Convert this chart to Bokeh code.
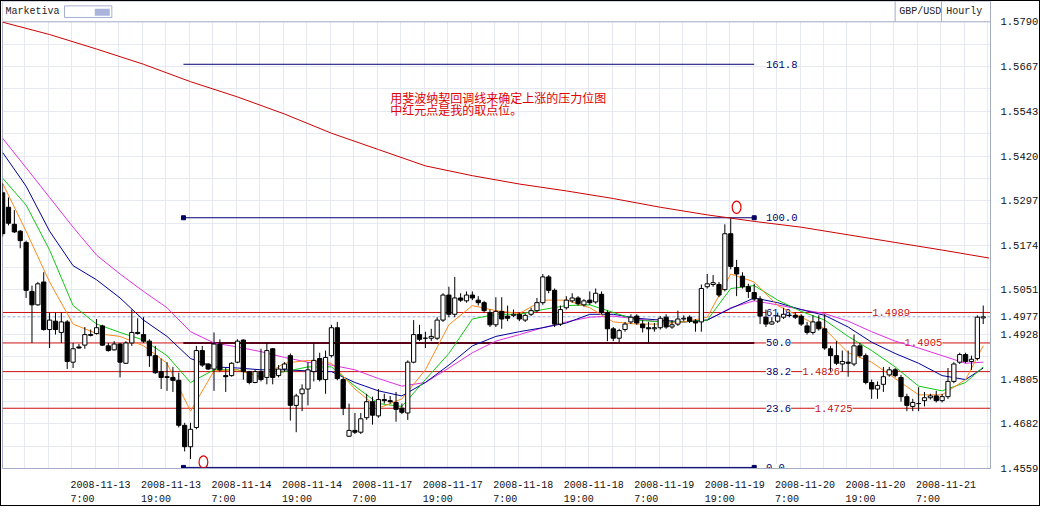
from bokeh.plotting import figure
from bokeh.models import Range1d, FixedTicker, Label, Span, ColumnDataSource, PrintfTickFormatter
from bokeh.core.properties import value
from bokeh.embed import file_html
from bokeh.resources import INLINE

# ---------------- data ----------------
# candle index 0 = 2008-11-12 19:00 (hourly, weekend skipped)
opens = [1.5319,1.5279,1.5232,1.5213,1.5182,1.5047,1.5010,1.5073,1.4942,1.4965,
         1.4934,1.4963,1.4852,1.4894,1.4899,1.4928,1.4931,1.4952,1.4897,1.4886,
         1.4902,1.4849,1.4905,1.4934,1.4928,1.4910,1.4870,1.4826,1.4812,1.4810,
         1.4802,1.4678,1.4619,1.4672,1.4884,1.4847,1.4833,1.4902,1.4815,1.4815,
         1.4852,1.4913,1.4826,1.4796,1.4826,1.4810,1.4889,1.4815,1.4833,1.4870,
         1.4733,1.4765,1.4778,1.4826,1.4862,1.4804,1.4870,1.4947,1.4804,1.4648,
         1.4664,1.4659,1.4699,1.4743,1.4704,1.4749,1.4746,1.4741,1.4725,1.4712,
         1.4852,1.4928,1.4918,1.4918,1.4918,1.4968,1.5037,1.4984,1.5029,1.5021,
         1.5037,1.5023,1.5016,1.4989,1.4955,1.4992,1.4979,1.4981,1.4984,1.4968,
         1.4984,1.4994,1.5016,1.5087,1.5050,1.4957,1.5002,1.5021,1.5029,1.5010,
         1.5023,1.5018,1.5039,1.4989,1.4944,1.4918,1.4942,1.4963,1.4979,1.4957,
         1.4947,1.4944,1.4947,1.4976,1.4949,1.4957,1.4971,1.4976,1.4965,1.4963,
         1.5060,1.5066,1.5066,1.5052,1.5206,1.5113,1.5089,1.5060,1.5044,1.5026,
         1.4976,1.4957,1.4965,1.4976,1.4981,1.4981,1.4979,1.4952,1.4934,1.4963,
         1.4944,1.4889,1.4870,1.4847,1.4852,1.4847,1.4897,1.4870,1.4796,1.4778,
         1.4791,1.4817,1.4831,1.4810,1.4757,1.4730,1.4738,1.4746,1.4754,1.4759,
         1.4746,1.4757,1.4799,1.4852,1.4873,1.4854,1.4862,1.4974]
highs = [1.5345,1.5306,1.5271,1.5216,1.5187,1.5063,1.5073,1.5100,1.4989,1.4989,
         1.4989,1.4968,1.4905,1.4902,1.4949,1.4942,1.4971,1.4955,1.4905,1.4910,
         1.4905,1.4910,1.4997,1.4973,1.4976,1.4915,1.4897,1.4862,1.4852,1.4839,
         1.4823,1.4685,1.4685,1.4897,1.4897,1.4849,1.4934,1.4915,1.4836,1.4852,
         1.4915,1.4915,1.4828,1.4831,1.4889,1.4905,1.4891,1.4844,1.4852,1.4876,
         1.4765,1.4791,1.4852,1.4905,1.4878,1.4884,1.4955,1.4963,1.4810,1.4738,
         1.4712,1.4712,1.4765,1.4757,1.4778,1.4765,1.4759,1.4770,1.4738,1.4857,
         1.4968,1.4955,1.4936,1.4944,1.4976,1.5042,1.5060,1.5087,1.5042,1.5047,
         1.5047,1.5034,1.5021,1.4997,1.5031,1.5031,1.5008,1.4997,1.4989,1.4986,
         1.5002,1.5029,1.5095,1.5092,1.5055,1.5008,1.5034,1.5042,1.5034,1.5026,
         1.5047,1.5055,1.5047,1.4994,1.4949,1.4944,1.4963,1.4984,1.4984,1.4968,
         1.4963,1.4960,1.4979,1.4984,1.4968,1.4994,1.4981,1.4981,1.4971,1.5066,
         1.5095,1.5092,1.5073,1.5232,1.5248,1.5134,1.5100,1.5068,1.5068,1.5034,
         1.4997,1.4976,1.4989,1.5002,1.4989,1.4989,1.4984,1.4963,1.4981,1.4981,
         1.4984,1.4897,1.4910,1.4884,1.4884,1.4928,1.4905,1.4876,1.4804,1.4799,
         1.4839,1.4839,1.4836,1.4817,1.4765,1.4751,1.4783,1.4770,1.4765,1.4773,
         1.4765,1.4836,1.4852,1.4878,1.4878,1.4870,1.4981,1.5008]
lows = [1.5198,1.5229,1.5208,1.5166,1.5029,1.4905,1.5008,1.4939,1.4891,1.4928,
        1.4905,1.4833,1.4836,1.4889,1.4889,1.4923,1.4928,1.4897,1.4881,1.4884,
        1.4810,1.4847,1.4897,1.4928,1.4905,1.4839,1.4820,1.4778,1.4773,1.4770,
        1.4672,1.4606,1.4585,1.4667,1.4839,1.4831,1.4773,1.4826,1.4770,1.4812,
        1.4849,1.4804,1.4791,1.4794,1.4799,1.4791,1.4791,1.4810,1.4826,1.4691,
        1.4659,1.4717,1.4733,1.4799,1.4799,1.4765,1.4865,1.4802,1.4706,1.4646,
        1.4654,1.4654,1.4693,1.4680,1.4699,1.4738,1.4738,1.4688,1.4709,1.4693,
        1.4849,1.4910,1.4891,1.4910,1.4913,1.4963,1.4976,1.4976,1.5018,1.5016,
        1.5023,1.5008,1.4989,1.4949,1.4949,1.4944,1.4965,1.4976,1.4965,1.4963,
        1.4979,1.4989,1.5010,1.5042,1.4949,1.4952,1.4997,1.5016,1.5008,1.5005,
        1.5010,1.5013,1.4984,1.4910,1.4910,1.4907,1.4936,1.4957,1.4955,1.4934,
        1.4905,1.4936,1.4942,1.4944,1.4944,1.4952,1.4965,1.4960,1.4936,1.4936,
        1.5055,1.5060,1.5031,1.5047,1.5108,1.5034,1.5055,1.5029,1.5021,1.4957,
        1.4949,1.4955,1.4960,1.4971,1.4976,1.4971,1.4952,1.4928,1.4928,1.4939,
        1.4886,1.4826,1.4844,1.4826,1.4812,1.4841,1.4865,1.4791,1.4751,1.4751,
        1.4770,1.4812,1.4810,1.4743,1.4717,1.4717,1.4717,1.4730,1.4749,1.4741,
        1.4741,1.4751,1.4794,1.4847,1.4849,1.4831,1.4857,1.4957]
closes = [1.5206,1.5235,1.5211,1.5187,1.5050,1.5010,1.5068,1.4942,1.4968,1.4942,
          1.4963,1.4854,1.4889,1.4891,1.4928,1.4926,1.4947,1.4899,1.4884,1.4902,
          1.4852,1.4905,1.4934,1.4931,1.4910,1.4870,1.4823,1.4810,1.4810,1.4802,
          1.4678,1.4619,1.4667,1.4884,1.4844,1.4833,1.4902,1.4831,1.4812,1.4849,
          1.4910,1.4826,1.4796,1.4826,1.4804,1.4884,1.4810,1.4833,1.4847,1.4733,
          1.4759,1.4778,1.4831,1.4857,1.4804,1.4865,1.4947,1.4807,1.4725,1.4664,
          1.4659,1.4696,1.4743,1.4706,1.4749,1.4746,1.4743,1.4722,1.4714,1.4852,
          1.4928,1.4915,1.4918,1.4923,1.4968,1.5037,1.4984,1.5029,1.5023,1.5037,
          1.5029,1.5016,1.4994,1.4955,1.4992,1.4971,1.4973,1.4984,1.4971,1.4981,
          1.4994,1.5016,1.5087,1.5050,1.4957,1.4997,1.5023,1.5029,1.5013,1.5021,
          1.5016,1.5042,1.4989,1.4944,1.4918,1.4939,1.4957,1.4976,1.4960,1.4947,
          1.4944,1.4947,1.4973,1.4949,1.4955,1.4971,1.4973,1.4965,1.4960,1.5055,
          1.5068,1.5071,1.5037,1.5206,1.5116,1.5095,1.5060,1.5047,1.5026,1.4979,
          1.4957,1.4963,1.4979,1.4984,1.4981,1.4976,1.4957,1.4934,1.4963,1.4944,
          1.4891,1.4870,1.4849,1.4854,1.4849,1.4897,1.4870,1.4796,1.4778,1.4788,
          1.4812,1.4831,1.4815,1.4757,1.4733,1.4741,1.4738,1.4754,1.4759,1.4746,
          1.4757,1.4799,1.4847,1.4873,1.4854,1.4860,1.4976,1.4977]

# moving averages
ma_long_idx = [0, 8, 16, 24, 32, 40, 48, 56, 64, 72, 80, 88, 96, 104, 112, 120, 128, 136, 144, 152, 160, 168]
ma_long = [1.5789,1.5755,1.5715,1.5673,1.5625,1.5583,1.5536,1.5483,1.5438,1.5393,1.5366,
           1.5343,1.5324,1.5303,1.5279,1.5258,1.5240,1.5224,1.5203,1.5182,1.5161,1.5139]
ma_idx = [0,4,8,12,16,20,24,28,32,36,40,44,48,52,56,60,64,68,72,76,80,84,88,92,96,100,
          104,108,112,116,120,124,128,132,136,140,144,148,152,156,160,164,167]
ma_magenta = [1.5469,1.5388,1.5306,1.5224,1.5147,1.5095,1.5047,1.5002,1.4936,1.4905,1.4894,
              1.4881,1.4865,1.4852,1.4844,1.4831,1.4807,1.4786,1.4796,1.4836,1.4878,1.4910,
              1.4928,1.4947,1.4963,1.4976,1.4979,1.4971,1.4963,1.4963,1.4968,1.5002,1.5021,
              1.5010,1.4997,1.4986,1.4965,1.4936,1.4910,1.4891,1.4870,1.4849,1.4852]
ma_blue = [1.5430,1.5337,1.5213,1.5118,1.5079,1.5029,1.4968,1.4923,1.4862,1.4839,1.4836,
           1.4831,1.4831,1.4828,1.4826,1.4796,1.4773,1.4759,1.4796,1.4844,1.4897,1.4923,
           1.4936,1.4947,1.4960,1.4984,1.4984,1.4973,1.4968,1.4963,1.4968,1.5000,1.5029,
           1.5016,1.4997,1.4981,1.4949,1.4907,1.4876,1.4849,1.4815,1.4804,1.4836]
ma_green = [1.5359,1.5285,1.5161,1.5008,1.4957,1.4934,1.4913,1.4870,1.4796,1.4831,1.4831,
            1.4812,1.4826,1.4839,1.4839,1.4786,1.4738,1.4730,1.4804,1.4876,1.4971,1.4984,
            1.4984,1.4997,1.5008,1.5010,1.4989,1.4968,1.4963,1.4963,1.4968,1.5055,1.5063,
            1.5023,1.4992,1.4968,1.4923,1.4884,1.4839,1.4786,1.4773,1.4796,1.4839]
ma_orange = [1.5345,1.5213,1.5073,1.4957,1.4931,1.4923,1.4897,1.4849,1.4717,1.4828,1.4831,
             1.4810,1.4849,1.4857,1.4849,1.4778,1.4725,1.4751,1.4831,1.4955,1.5008,1.4994,
             1.4986,1.5023,1.5023,1.5002,1.4963,1.4957,1.4957,1.4963,1.4976,1.5095,1.5073,
             1.5008,1.4976,1.4944,1.4878,1.4852,1.4807,1.4762,1.4762,1.4804,1.4897]

# fibonacci retracement (navy) and user level lines (red)
fib_start, fib_end = 30.8, 128.0
fib_pct = ["0.0", "23.6", "38.2", "50.0", "61.8", "100.0", "161.8"]
fib_price = [1.4562, 1.4725, 1.4826, 1.4905, 1.4989, 1.5250, 1.5673]
red_levels = [1.4989, 1.4905, 1.4826, 1.4725]
red_labels = ["1.4989", "1.4905", "1.4826", "1.4725"]
red_label_x = [148.1, 153.6, 136.2, 138.3]
last_price = 1.4977
pick_x = [125.0, 34.2]
pick_y = [1.5279, 1.4577]

ytick_labels = ["1.4559", "1.4682", "1.4805", "1.4928", "1.5051", "1.5174",
                "1.5297", "1.5420", "1.5543", "1.5667", "1.5790"]
xtick_idx = [12, 24, 36, 48, 60, 72, 84, 96, 108, 120, 132, 144, 156]
xtick_dates = ["2008-11-13", "2008-11-13", "2008-11-14", "2008-11-14", "2008-11-17", "2008-11-17",
               "2008-11-18", "2008-11-18", "2008-11-19", "2008-11-19", "2008-11-20", "2008-11-20",
               "2008-11-21"]
xtick_times = ["7:00", "19:00", "7:00", "19:00", "7:00", "19:00", "7:00", "19:00",
               "7:00", "19:00", "7:00", "19:00", "7:00"]
note_lines = ["用斐波纳契回调线来确定上涨的压力位图", "中红元点是我的取点位。"]
header_texts = ["Marketiva", "GBP/USD", "Hourly"]

# ---------------- figure ----------------
XMIN, XMAX = -0.02, 168.24
YMIN, YMAX = 1.4559, 1.5790
YTOP = 1.5846          # top of canvas (header strip lives above YMAX)
MONO = "Liberation Mono"
FRAME = "#a4acc8"
GRID = "#e6e8f2"
RED = "#cc1010"
NAVY = "#000070"

p = figure(width=1040, height=506, x_range=Range1d(XMIN, XMAX), y_range=Range1d(YMIN, YTOP),
           output_backend="svg", toolbar_location=None, y_axis_location="right", title=None,
           min_border_left=1, min_border_right=51, min_border_top=0, min_border_bottom=33,
           background_fill_color="white", border_fill_color="white")
p.styles = {"border": "1px solid #000000"}
p.outline_line_color = FRAME

grid_x = [4 * k - 0.2 for k in range(43)]
ytick_vals = [float(s) for s in ytick_labels]
grid_y = []
for a, b in zip(ytick_vals[:-1], ytick_vals[1:]):
    grid_y += [a, (a + b) / 2]
grid_y.append(ytick_vals[-1])

p.xgrid.ticker = FixedTicker(ticks=grid_x)
p.xgrid.grid_line_color = GRID
p.ygrid.ticker = FixedTicker(ticks=grid_y)
p.ygrid.grid_line_color = GRID

# x axis: two-line labels, left-aligned look (monospace, padded lines), label starts at the tick candle
xa = p.xaxis[0]
shift = 4.67
xt = [i + shift for i in xtick_idx]
xlabels = []
for d, t in zip(xtick_dates, xtick_times):
    w = max(len(d), len(t))
    xlabels.append(d + "\u00a0" * (w - len(d)) + "\n" + t + "\u00a0" * (w - len(t)))
xa.ticker = FixedTicker(ticks=xt)
xa.major_label_overrides = {v: s for v, s in zip(xt, xlabels)}
xa.major_label_text_font = MONO
xa.major_label_text_font_size = "10px"
xa.major_label_text_line_height = 1.3
xa.major_label_text_color = "#111111"
xa.major_label_standoff = 5
xa.major_tick_line_color = None
xa.minor_tick_line_color = None
xa.axis_line_color = FRAME

ax = p.yaxis[0]
ax.ticker = FixedTicker(ticks=ytick_vals + [last_price])
ax.formatter = PrintfTickFormatter(format="%.4f")
ax.major_label_text_font = MONO
ax.major_label_text_font_size = "10.5px"
ax.major_label_text_color = "#111111"
ax.major_tick_line_color = None
ax.minor_tick_line_color = None
ax.axis_line_color = FRAME
ax.major_label_standoff = 4

# red level lines and current-price line, under everything except the grid
for v in red_levels:
    p.add_layout(Span(location=v, dimension="width", line_color=RED, line_width=1, level="underlay"))
p.add_layout(Span(location=last_price, dimension="width", line_color="#9aaee6", line_width=1,
                  line_dash="3 2", level="underlay"))

# level labels (under the candles, white box interrupts the lines)
for t, v in zip(fib_pct, fib_price):
    p.add_layout(Label(x=130.0, y=v, text=t, text_font=MONO, text_font_size="10.5px",
                       text_color=NAVY, text_baseline="middle", text_align="left",
                       background_fill_color="white", level="underlay"))
for t, v, xx in zip(red_labels, red_levels, red_label_x):
    p.add_layout(Label(x=xx, y=v, text=t, text_font=MONO, text_font_size="10.5px",
                       text_color=RED, text_baseline="middle", text_align="left",
                       background_fill_color="white", level="underlay"))

# header strip (above the price area)
p.quad(left=[XMIN - 1], right=[XMAX + 1], bottom=[YMAX], top=[YTOP + 0.001],
       fill_color="white", line_color=None)
p.segment(x0=[XMIN - 1], x1=[XMAX + 1], y0=[YMAX], y1=[YMAX], line_color=FRAME, line_width=1)
p.segment(x0=[152.0, 159.9], x1=[152.0, 159.9], y0=[YMAX, YMAX], y1=[YTOP + 0.001, YTOP + 0.001],
          line_color=FRAME, line_width=1)
p.quad(left=[10.54], right=[18.6], top=[1.5834], bottom=[1.5802], fill_color="white",
       line_color="#a8b0d0", line_width=1)
p.quad(left=[15.7], right=[18.25], top=[1.5826], bottom=[1.5807], fill_color="#a8b4dc",
       line_color=None)
p.text(x=[0.49, 152.7, 160.7], y=[1.5818] * 3, text=header_texts, text_font=value(MONO),
       text_font_size="10px", text_color="#222222", text_baseline="middle", text_align="left")

# fib segments (0, 50, 100, 161.8 visible; the others lie under the red lines)
fib_show = [0, 3, 5, 6]
p.segment(x0=[fib_start] * len(fib_show), x1=[fib_end] * len(fib_show),
          y0=[fib_price[k] for k in fib_show], y1=[fib_price[k] for k in fib_show],
          line_color=NAVY, line_width=1)
p.segment(x0=[fib_start], x1=[fib_end], y0=[fib_price[3]], y1=[fib_price[3]],
          line_color="#5a0018", line_width=2)
p.scatter(x=[fib_start, fib_end, fib_start, fib_end],
          y=[fib_price[5], fib_price[5], fib_price[0], fib_price[0]],
          marker="square", size=4, color="#000060")

# moving averages
p.line(ma_long_idx, ma_long, line_color="#cc0000", line_width=1)
p.line(ma_idx, ma_magenta, line_color="#e030e0", line_width=1)
p.line(ma_idx, ma_blue, line_color="#000099", line_width=1)
p.line(ma_idx, ma_green, line_color="#10c810", line_width=1)
p.line(ma_idx, ma_orange, line_color="#ff8a1a", line_width=1)

# candles
n = len(opens)
src = ColumnDataSource(dict(
    x=list(range(n)), o=opens, h=highs, l=lows, c=closes,
    top=[max(a, b) for a, b in zip(opens, closes)],
    bottom=[min(a, b) for a, b in zip(opens, closes)],
    fill=["white" if cc >= oo else "black" for oo, cc in zip(opens, closes)],
))
p.segment(x0="x", y0="l", x1="x", y1="h", source=src, line_color="black", line_width=1)
p.vbar(x="x", width=0.72, top="top", bottom="bottom", fill_color="fill",
       line_color="black", line_width=1, source=src)

# red pick points
p.ellipse(x=pick_x, y=pick_y, width=1.5, height=0.0034, fill_color=None,
          line_color="#e00000", line_width=1.2)

# note text
p.add_layout(Label(x=66.0, y=1.5604, text=note_lines[0], text_font="Noto Sans CJK SC",
                   text_font_size="12px", text_color="#e00000", text_baseline="top"))
p.add_layout(Label(x=66.0, y=1.5572, text=note_lines[1], text_font="Noto Sans CJK SC",
                   text_font_size="12px", text_color="#e00000", text_baseline="top"))

open("out.html", "w").write(file_html(p, INLINE))
